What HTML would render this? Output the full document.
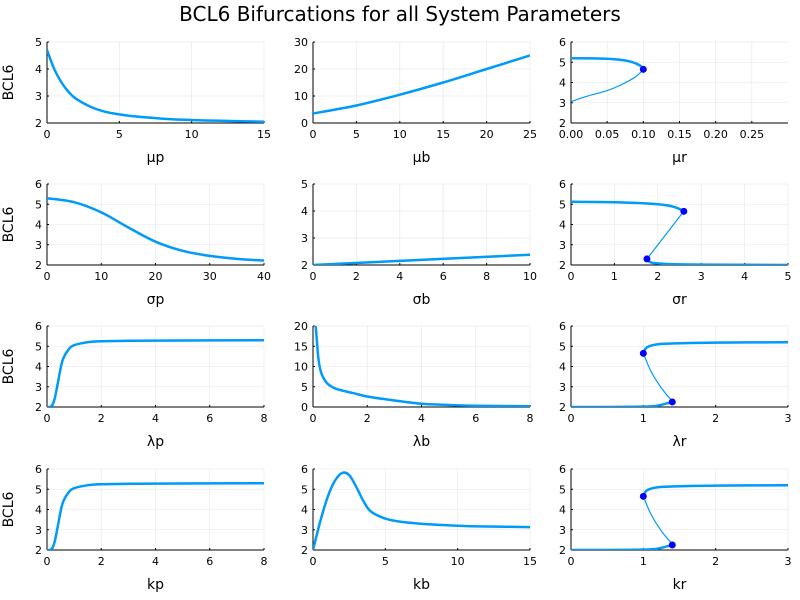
<!DOCTYPE html>
<html><head><meta charset="utf-8"><style>
html,body{margin:0;padding:0;background:#fff}
svg{display:block;font-family:"DejaVu Sans","Liberation Sans",sans-serif}
</style></head><body>
<svg id="chart" width="800" height="600" viewBox="0 0 800 600">
<text x="400" y="21" text-anchor="middle" font-size="20" fill="#000">BCL6 Bifurcations for all System Parameters</text>
</svg>
<script>
const labels=["μp","μb","μr","σp","σb","σr","λp","λb","λr","kp","kb","kr"];
const xRanges=[[0,15],[0,25],[0,0.3],[0,40],[0,10],[0,5],[0,8],[0,8],[0,3],[0,8],[0,15],[0,3]];
const yRanges=[[2,5],[0,30],[2,6],[2,6],[2,5],[2,6],[2,6],[0,20],[2,6],[2,6],[2,6],[2,6]];
const xTicks=[[0,5,10,15],[0,5,10,15,20,25],[0,0.05,0.1,0.15,0.2,0.25],[0,10,20,30,40],[0,2,4,6,8,10],[0,1,2,3,4,5],[0,2,4,6,8],[0,2,4,6,8],[0,1,2,3],[0,2,4,6,8],[0,5,10,15],[0,1,2,3]];
const xTickLabels=[null,null,["0.00","0.05","0.10","0.15","0.20","0.25"],null,null,null,null,null,null,null,null,null];
const yTicks=[[2,3,4,5],[0,10,20,30],[2,3,4,5,6],[2,3,4,5,6],[2,3,4,5],[2,3,4,5,6],[2,3,4,5,6],[0,5,10,15,20],[2,3,4,5,6],[2,3,4,5,6],[2,3,4,5,6],[2,3,4,5,6]];
// stable branches [x array, y array]
const stable=[
 [[[0,0.5,1,1.5,2,3,4,5,6,8,10,12,15],[4.7,4.0,3.5,3.15,2.9,2.6,2.42,2.32,2.25,2.16,2.11,2.08,2.05]]],
 [[[0,5,10,15,20,25],[3.5,6.5,10.5,15,20,25]]],
 [[[0,0.03,0.06,0.08,0.095,0.1],[5.2,5.19,5.15,5.05,4.85,4.65]]],
 [[[0,5,10,15,20,25,30,35,40],[5.3,5.1,4.6,3.85,3.15,2.7,2.45,2.3,2.22]]],
 [[[0,10],[2.0,2.38]]],
 [[[0,1,2,2.4,2.6],[5.12,5.1,5.0,4.85,4.65]],[[1.75,1.85,2.2,3,4,5],[2.3,2.12,2.05,2.02,2.01,2.0]]],
 [[[0,0.1,0.2,0.3,0.4,0.5,0.6,0.8,1,1.5,2,3,4,8],[2.0,2.0,2.1,2.5,3.2,3.9,4.4,4.85,5.05,5.2,5.25,5.27,5.28,5.3]]],
 [[[0.1,0.2,0.3,0.5,0.75,1,1.5,2,3,4,5,6,8],[20,12,8.5,6,4.8,4.2,3.4,2.6,1.6,0.8,0.5,0.3,0.2]]],
 [[[1.0,1.05,1.2,1.5,2,3],[4.65,4.95,5.1,5.15,5.18,5.2]],[[0,0.5,1,1.2,1.4],[2.0,2.0,2.02,2.07,2.25]]],
 [[[0,0.1,0.2,0.3,0.4,0.5,0.6,0.8,1,1.5,2,3,4,8],[2.0,2.0,2.1,2.5,3.2,3.9,4.4,4.85,5.05,5.2,5.25,5.27,5.28,5.3]]],
 [[[0,0.5,1,1.5,2,2.5,3,3.5,4,5,6,8,10,12,15],[2.0,3.4,4.6,5.4,5.8,5.7,5.1,4.4,3.9,3.55,3.4,3.27,3.2,3.16,3.13]]],
 [[[1.0,1.05,1.2,1.5,2,3],[4.65,4.95,5.1,5.15,5.18,5.2]],[[0,0.5,1,1.2,1.4],[2.0,2.0,2.02,2.07,2.25]]]
];
const unstable=[[],[],[[[0.1,0.09,0.07,0.05,0.02,0],[4.65,4.3,3.9,3.6,3.3,3.05]]],[],[],[[[2.6,1.75],[4.65,2.3]]],[],[],[[[1,1.1,1.2,1.3,1.4],[4.65,3.8,3.2,2.7,2.3]]],[],[],[[[1,1.1,1.2,1.3,1.4],[4.65,3.8,3.2,2.7,2.3]]]];
const foldX=[[],[],[0.1],[],[],[2.6,1.75],[],[],[1.0,1.4],[],[],[1.0,1.4]];
const foldY=[[],[],[4.65],[],[],[4.65,2.3],[],[],[4.65,2.25],[],[],[4.65,2.25]];

const colL=[47,313,571], colW=217;
const rowT=[42,184,326,469], rowH=81;
const svg=document.getElementById('chart');
const NS="http://www.w3.org/2000/svg";
function mk(tag,attrs,parent){const e=document.createElementNS(NS,tag);for(const k in attrs)e.setAttribute(k,attrs[k]);parent.appendChild(e);return e;}
function smooth(P){
 if(P.length<3) return P.map((p,k)=>(k?'L':'M')+p[0].toFixed(1)+','+p[1].toFixed(1)).join('');
 let d='M'+P[0][0].toFixed(1)+','+P[0][1].toFixed(1);
 for(let k=0;k<P.length-1;k++){
  const p0=P[Math.max(0,k-1)],p1=P[k],p2=P[k+1],p3=P[Math.min(P.length-1,k+2)];
  const c1=[p1[0]+(p2[0]-p0[0])/6,p1[1]+(p2[1]-p0[1])/6];
  const c2=[p2[0]-(p3[0]-p1[0])/6,p2[1]-(p3[1]-p1[1])/6];
  d+=`C${c1[0].toFixed(1)},${c1[1].toFixed(1)} ${c2[0].toFixed(1)},${c2[1].toFixed(1)} ${p2[0].toFixed(1)},${p2[1].toFixed(1)}`;
 }
 return d;
}
for(let i=0;i<12;i++){
 const r=Math.floor(i/3), c=i%3;
 const L=colL[c], T=rowT[r], W=colW, H=rowH;
 const [x0,x1]=xRanges[i],[y0,y1]=yRanges[i];
 const sx=v=>L+(v-x0)/(x1-x0)*W, sy=v=>T+H-(v-y0)/(y1-y0)*H;
 const g=mk('g',{},svg);
 
 
 xTicks[i].forEach((t,k)=>{
  const x=sx(t);
  mk('line',{x1:x,x2:x,y1:T,y2:T+H,stroke:'#000','stroke-opacity':0.1,'stroke-width':0.6},g);
  mk('line',{x1:x,x2:x,y1:T+H,y2:T+H-2,stroke:'#000','stroke-width':1},g);
  const tl=mk('text',{x:x,y:T+H+15,'text-anchor':'middle','font-size':11,fill:'#000'},g);
  tl.textContent=xTickLabels[i]?xTickLabels[i][k]:String(t);
  
  
 });
 yTicks[i].forEach(t=>{
  const y=sy(t);
  mk('line',{x1:L,x2:L+W,y1:y,y2:y,stroke:'#000','stroke-opacity':0.1,'stroke-width':0.6},g);
  mk('line',{x1:L,x2:L+2,y1:y,y2:y,stroke:'#000','stroke-width':1},g);
  const tl=mk('text',{x:L-5,y:y+4,'text-anchor':'end','font-size':11,fill:'#000'},g);
  tl.textContent=String(t);
  
  
 });
 mk('line',{x1:L,x2:L+W,y1:T+H,y2:T+H,stroke:'#000','stroke-width':1},g);
 mk('line',{x1:L,x2:L,y1:T,y2:T+H,stroke:'#000','stroke-width':1},g);
 const xl=mk('text',{x:L+W/2,y:T+H+39,'text-anchor':'middle','font-size':14,fill:'#000'},g);
 xl.textContent=labels[i];
 
 
 if(c===0){
  const yl=mk('text',{x:0,y:0,'text-anchor':'middle','font-size':14,fill:'#000',transform:`translate(13,${T+H/2}) rotate(-90)`},g);
  yl.textContent='BCL6';
  
  
 }
 const cp=mk('clipPath',{id:'cp'+i},g);
 mk('rect',{x:L,y:T-1,width:W,height:H+1},cp);
 stable[i].forEach(s=>{
  const d=smooth(s[0].map((v,k)=>[sx(v),sy(s[1][k])]));
  const p=mk('path',{d:d,fill:'none',stroke:'#009af9','stroke-width':2.5,'stroke-linejoin':'round','clip-path':`url(#cp${i})`},g);
  
  
 });
 unstable[i].forEach(s=>{
  const d=smooth(s[0].map((v,k)=>[sx(v),sy(s[1][k])]));
  const p=mk('path',{d:d,fill:'none',stroke:'#009af9','stroke-width':1.2,'clip-path':`url(#cp${i})`},g);
  
  
 });
 foldX[i].forEach((v,k)=>{
  const pt=mk('circle',{cx:sx(v),cy:sy(foldY[i][k]),r:3.5,fill:'#0000ff'},g);
  
  
 });
}
</script>
</body></html>
